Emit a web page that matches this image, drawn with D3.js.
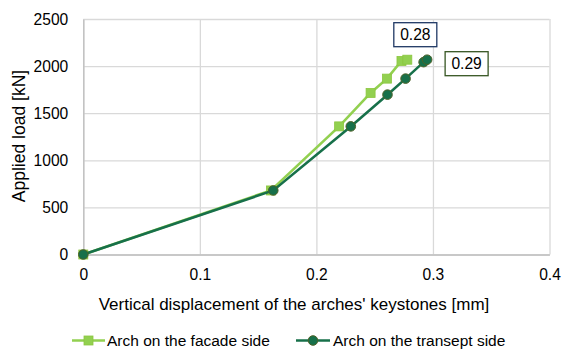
<!DOCTYPE html>
<html>
<head>
<meta charset="utf-8">
<script src="https://cdn.jsdelivr.net/npm/d3@7"></script>
<style>
  html, body { margin: 0; padding: 0; background: #fff; }
  svg { display: block; font-family: "Liberation Sans", Arial, sans-serif; }
</style>
</head>
<body>
<svg id="chart" width="563" height="351"></svg>
<script>
// Load-displacement readings for the two arches
const facadeDisp = [0, 0.161, 0.2195, 0.2465, 0.2605, 0.273, 0.278];
const transeptDisp = [0, 0.163, 0.2295, 0.261, 0.2765, 0.292, 0.295];
const facadeLoad = [0, 680, 1360, 1715, 1867, 2055, 2068];
const transeptLoad = [0, 680, 1360, 1697, 1867, 2042, 2068];
const xTicks = [0, 0.1, 0.2, 0.3, 0.4];
const yTicks = [0, 500, 1000, 1500, 2000, 2500];
const seriesNames = ["Arch on the facade side", "Arch on the transept side"];
const endLabels = ["0.28", "0.29"];

const svg = d3.select("#chart");
const W = 563, H = 351;
const margin = { left: 83.3, right: W - 549.5, top: 19, bottom: H - 254.5 };

const x = d3.scaleLinear().domain([0, 0.4]).range([margin.left, W - margin.right]);
const y = d3.scaleLinear().domain([0, 2500]).range([H - margin.bottom, margin.top]);

const colFacade = "#92d050";
const colTransept = "#17704a";
const tickFont = 15.6;
const titleFont = 17;

// gridlines
svg.append("g")
  .attr("transform", `translate(0,${y(0)})`)
  .call(d3.axisBottom(x).tickValues(xTicks).tickSize(-(y(0) - y(2500))).tickFormat(""))
  .call(g => g.select(".domain").remove())
  .call(g => g.selectAll("line").attr("stroke", "#d9d9d9").attr("stroke-width", 1.3));
svg.append("g")
  .attr("transform", `translate(${x(0)},0)`)
  .call(d3.axisLeft(y).tickValues(yTicks).tickSize(-(x(0.4) - x(0))).tickFormat(""))
  .call(g => g.select(".domain").remove())
  .call(g => g.selectAll("line").attr("stroke", "#d9d9d9").attr("stroke-width", 1.3));

// axes and tick labels
const xAxis = svg.append("g")
  .attr("transform", `translate(0,${y(0)})`)
  .call(d3.axisBottom(x).tickValues(xTicks).tickSize(0).tickPadding(14.5).tickFormat(d3.format("")));
xAxis.select(".domain").attr("stroke", "#bfbfbf").attr("stroke-width", 1.3);
xAxis.selectAll("text").attr("font-size", tickFont).attr("fill", "#000").attr("font-family", "Liberation Sans, Arial, sans-serif");

const yAxis = svg.append("g")
  .attr("transform", `translate(${x(0)},0)`)
  .call(d3.axisLeft(y).tickValues(yTicks).tickSize(0).tickPadding(15).tickFormat(d3.format("")));
yAxis.select(".domain").attr("stroke", "#bfbfbf").attr("stroke-width", 1.3);
yAxis.selectAll("text").attr("font-size", tickFont).attr("fill", "#000").attr("font-family", "Liberation Sans, Arial, sans-serif");

// axis titles
svg.append("text")
  .attr("x", 294).attr("y", 310)
  .attr("text-anchor", "middle").attr("font-size", titleFont)
  .text("Vertical displacement of the arches' keystones [mm]");
svg.append("text")
  .attr("transform", `translate(24.5,136) rotate(-90)`)
  .attr("text-anchor", "middle").attr("font-size", 17.5)
  .text("Applied load [kN]");

const line = d3.line().x(d => x(d[0])).y(d => y(d[1]));
const facade = facadeDisp.map((d, i) => [d, facadeLoad[i]]);
const transept = transeptDisp.map((d, i) => [d, transeptLoad[i]]);

// facade series
svg.append("path").datum(facade).attr("d", line)
  .attr("fill", "none").attr("stroke", colFacade).attr("stroke-width", 2.6);
svg.selectAll(".sq").data(facade).enter().append("rect")
  .attr("x", d => x(d[0]) - 4.5).attr("y", d => y(d[1]) - 4.5)
  .attr("width", 9).attr("height", 9)
  .attr("fill", colFacade).attr("stroke", "#8cc63f").attr("stroke-width", 0.8);

// transept series
svg.append("path").datum(transept).attr("d", line)
  .attr("fill", "none").attr("stroke", colTransept).attr("stroke-width", 2.6);
svg.selectAll(".ci").data(transept).enter().append("circle")
  .attr("cx", d => x(d[0])).attr("cy", d => y(d[1])).attr("r", 4.8)
  .attr("fill", colTransept).attr("stroke", "#4f6228").attr("stroke-width", 1);

// end value callouts
function callout(px, py, text, border) {
  const g = svg.append("g");
  g.append("rect").attr("x", px).attr("y", py).attr("width", 43).attr("height", 24)
    .attr("fill", "#fff").attr("stroke", border).attr("stroke-width", 1.3);
  g.append("text").attr("x", px + 21.5).attr("y", py + 17.5).attr("text-anchor", "middle")
    .attr("font-size", tickFont).text(text);
}
const lastF = facade[facade.length - 1], lastT = transept[transept.length - 1];
callout(x(lastF[0]) - 13.5, y(lastF[1]) - 37, endLabels[0], "#1f3864");
callout(x(lastT[0]) + 18, y(lastT[1]) - 8, endLabels[1], "#375623");

// legend
const ly = 340.5;
const lg = svg.append("g");
lg.append("line").attr("x1", 72).attr("x2", 105).attr("y1", ly).attr("y2", ly)
  .attr("stroke", colFacade).attr("stroke-width", 2.6);
lg.append("rect").attr("x", 88.5 - 4.5).attr("y", ly - 4.5).attr("width", 9).attr("height", 9)
  .attr("fill", colFacade).attr("stroke", "#8cc63f").attr("stroke-width", 0.8);
lg.append("text").attr("x", 107).attr("y", ly + 5.5).attr("font-size", 15.5).text(seriesNames[0]);
lg.append("line").attr("x1", 296).attr("x2", 330).attr("y1", ly).attr("y2", ly)
  .attr("stroke", colTransept).attr("stroke-width", 2.6);
lg.append("circle").attr("cx", 313).attr("cy", ly).attr("r", 4.8)
  .attr("fill", colTransept).attr("stroke", "#4f6228").attr("stroke-width", 1);
lg.append("text").attr("x", 333).attr("y", ly + 5.5).attr("font-size", 15.5).text(seriesNames[1]);
</script>
</body>
</html>
